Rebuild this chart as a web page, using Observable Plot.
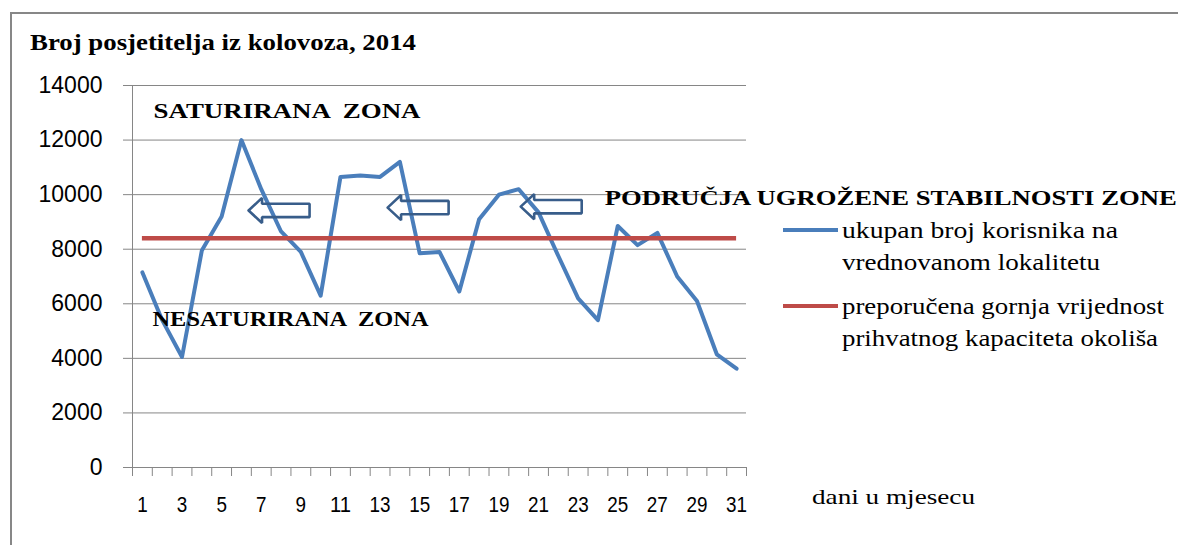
<!DOCTYPE html>
<html><head><meta charset="utf-8">
<script src="https://cdn.jsdelivr.net/npm/d3@7"></script>
<script src="https://cdn.jsdelivr.net/npm/@observablehq/plot@0.6"></script>
<style>
body{margin:0;background:#fff;}
#wrap{position:relative;width:1178px;height:545px;overflow:hidden;background:#fff;}
#chart{position:absolute;left:0;top:0;}
#frame{position:absolute;left:10px;top:12px;width:1300px;height:700px;border-left:2px solid #878787;border-top:2px solid #878787;}
.t{position:absolute;white-space:nowrap;transform-origin:0 50%;color:#000;line-height:1;display:inline-block;}
.sw{position:absolute;height:4px;}
</style></head><body>
<div id="wrap"><div id="frame"></div><div id="chart"></div></div>
<script>
// ---- data ----
const days = d3.range(1, 32);
const visitors = [7150, 5400, 4050, 7950, 9200, 12000, 10200, 8650, 7900, 6300,
                  10650, 10700, 10650, 11200, 7850, 7900, 6450, 9100, 10000, 10200,
                  9350, 7750, 6200, 5400, 8850, 8150, 8600, 7000, 6100, 4150, 3620];
const capacity = 8400;
const yTicks = [0, 2000, 4000, 6000, 8000, 10000, 12000, 14000];
const xTickLabels = [1, 3, 5, 7, 9, 11, 13, 15, 17, 19, 21, 23, 25, 27, 29, 31];
const zoneLabels = ["SATURIRANA  ZONA", "NESATURIRANA  ZONA", "PODRUČJA UGROŽENE STABILNOSTI ZONE"];
const zoneDays = [1.56, 1.51, 24.34];
const zoneValues = [13070, 5460, 9890];
const arrowDays = [6.36, 13.38, 20.1];
const arrowValues = [9420, 9525, 9560];
const titleText = "Broj posjetitelja iz kolovoza, 2014";
const xLabelText = "dani u mjesecu";
const seriesLines = [["ukupan broj korisnika na", "vrednovanom lokalitetu"],
                     ["preporučena gornja vrijednost", "prihvatnog kapaciteta okoliša"]];

// ---- build ----
const BLUE = "#4A7EBB", RED = "#BE4B48", GRID = "#868686", ARROW = "#385D8A";
const SERIF = "'Liberation Serif', 'Times New Roman', 'DejaVu Serif', serif";
const series = days.map((d, i) => ({day: d, value: visitors[i]}));
const zones = zoneLabels.map((l, i) => ({label: l, day: zoneDays[i], value: zoneValues[i]}));
// hollow block arrows, shape expressed in axis units around each tip
const headLen = 0.68, bodyLen = 3.08, headHalf = 460, bodyHalf = 245;
const arrows = [];
arrowDays.forEach((x, k) => {
  const v = arrowValues[k];
  [[x, v], [x + headLen, v + headHalf], [x + headLen, v + bodyHalf], [x + bodyLen, v + bodyHalf],
   [x + bodyLen, v - bodyHalf], [x + headLen, v - bodyHalf], [x + headLen, v - headHalf], [x, v]]
    .forEach(([px, py]) => arrows.push({id: k, x: px, y: py}));
});

const plot = Plot.plot({
  width: 1178, height: 545,
  marginLeft: 132, marginRight: 432, marginTop: 85, marginBottom: 78,
  style: {background: "transparent", overflow: "visible"},
  x: {type: "linear", domain: [0.5, 31.5]},
  y: {domain: [0, 14000]},
  marks: [
    Plot.gridY({ticks: yTicks, stroke: GRID, strokeOpacity: 1, strokeWidth: 1}),
    Plot.ruleX([0.5], {stroke: GRID, strokeWidth: 1}),
    Plot.axisY({ticks: yTicks, tickSize: 9, tickPadding: 21, tickFormat: d => String(d),
      fontSize: 23, fontFamily: "Liberation Sans", stroke: GRID, fill: "#000", label: null}),
    Plot.axisX({ticks: d3.range(0.5, 32, 1), tickSize: 9, tickFormat: () => "", stroke: GRID, label: null}),
    Plot.text(xTickLabels, {x: d => d, frameAnchor: "bottom", dy: 44, fontSize: 22,
      fontFamily: "Liberation Sans", fill: "#000"}),
    Plot.line(series, {x: "day", y: "value", stroke: BLUE, strokeWidth: 4, strokeLinejoin: "round"}),
    Plot.ruleY([capacity], {x1: 1, x2: 31, stroke: RED, strokeWidth: 4.5}),
    Plot.line(arrows, {x: "x", y: "y", z: "id", stroke: ARROW, strokeWidth: 2.6, strokeLinejoin: "miter", curve: "linear"}),
    Plot.text(zones, {x: "day", y: "value", text: "label", textAnchor: "start", lineAnchor: "middle",
      fontSize: 22, fontWeight: "bold", fontFamily: SERIF, fill: "#000"})
  ]
});
document.getElementById("chart").appendChild(plot);

// stretch/condense texts to the widths seen in the reference
const zoneWidths = [267, 276, 572];
const tickStrings = xTickLabels.map(String);
plot.querySelectorAll("text").forEach(t => {
  const s = t.textContent;
  const i = zoneLabels.indexOf(s);
  if (i >= 0) {
    t.setAttribute("textLength", zoneWidths[i]);
    t.setAttribute("lengthAdjust", "spacingAndGlyphs");
  } else if (tickStrings.includes(s) && t.getAttribute("font-size") === "22") {
    t.setAttribute("textLength", s.length * 10.5);
    t.setAttribute("lengthAdjust", "spacingAndGlyphs");
  }
});
// x tick labels are inside a g with font-size set; condense them as well
plot.querySelectorAll("g").forEach(g => {
  if (g.getAttribute("font-size") === "22") {
    g.querySelectorAll("text").forEach(t => {
      const s = t.textContent;
      if (tickStrings.includes(s)) {
        t.setAttribute("textLength", s.length * 10.5);
        t.setAttribute("lengthAdjust", "spacingAndGlyphs");
      }
    });
  }
});

// ---- HTML texts: title, axis label, legend ----
const wrap = document.getElementById("wrap");
function addText(txt, x, yc, size, w, bold) {
  const s = document.createElement("span");
  s.className = "t";
  s.textContent = txt;
  s.style.fontFamily = SERIF;
  s.style.fontSize = size + "px";
  s.style.fontWeight = bold ? "bold" : "normal";
  s.style.left = x + "px";
  s.style.top = (yc - size / 2) + "px";
  wrap.appendChild(s);
  const actual = s.getBoundingClientRect().width;
  s.style.transform = `scaleX(${w / actual})`;
}
addText(titleText, 30, 42, 24, 386, true);
addText(xLabelText, 812, 497, 22, 163, false);
const legendColors = [BLUE, RED];
const legendY = [230, 306];
const legendWidths = [[276, 258], [322, 316]];
seriesLines.forEach((lines, k) => {
  const sw = document.createElement("div");
  sw.className = "sw";
  sw.style.left = "783px"; sw.style.width = "55px";
  sw.style.top = (legendY[k] - 2) + "px";
  sw.style.background = legendColors[k];
  wrap.appendChild(sw);
  lines.forEach((l, j) => addText(l, 842, legendY[k] + j * 32, 23, legendWidths[k][j], false));
});
</script>
</body></html>
